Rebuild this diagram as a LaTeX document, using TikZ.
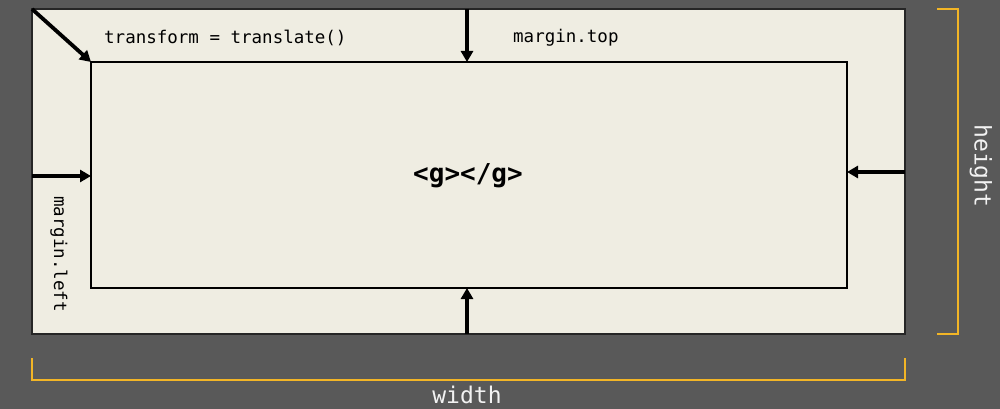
\documentclass[tikz,border=0pt]{standalone}
\usepackage{fontspec}
\setmonofont{DejaVu Sans Mono}
\usetikzlibrary{arrows.meta}
\definecolor{bgdark}{HTML}{595959}
\definecolor{paper}{HTML}{EFEDE2}
\definecolor{brk}{HTML}{F2B526}
\definecolor{lbl}{HTML}{F2F2F2}
\begin{document}
\begin{tikzpicture}[x=1pt,y=-1pt,
  pointer/.style={line width=3.8pt,-{Triangle[length=11pt,width=12pt]}},
  bracket/.style={brk,line width=2.5pt},
  codetext/.style={font=\ttfamily\fontsize{17.5}{20}\selectfont,text=black,inner sep=0pt},
  dimtext/.style={font=\ttfamily\fontsize{23}{26}\selectfont,text=lbl,inner sep=0pt}]
\fill[bgdark] (0,0) rectangle (1000,409);
\useasboundingbox (0,0) rectangle (1000,409);
% corners
\coordinate (otl) at (32,9);
\coordinate (obr) at (905,334);
\coordinate (itl) at (91,62);
\coordinate (ibr) at (847,288);
\fill[paper,draw=black!85,line width=1.8pt] (otl) rectangle (obr);
\draw[black,line width=1.4pt] (itl) rectangle (ibr);
% arrow end points
\coordinate (topo) at (467,9);   \coordinate (topi) at (467,62);
\coordinate (boto) at (467,334); \coordinate (boti) at (467,288);
\coordinate (lefo) at (32,176);  \coordinate (lefi) at (91,176);
\coordinate (rigo) at (905,172); \coordinate (rigi) at (847,172);
\draw[pointer] (otl) -- (itl);
\draw[pointer] (topo) -- (topi);
\draw[pointer] (boto) -- (boti);
\draw[pointer] (lefo) -- (lefi);
\draw[pointer] (rigo) -- (rigi);
% labels
\node[codetext,anchor=west] (tr) at (104,38) {transform = translate()};
\node[codetext,anchor=west] (mt) at (513,38) {margin.top};
\node[codetext,rotate=-90] (ml) at (59,254) {margin.left};
\node[font=\ttfamily\bfseries\fontsize{26}{30}\selectfont,inner sep=0pt] (g) at (468,176) {<g></g>};
% brackets
\coordinate (rb1) at (937,9); \coordinate (rb2) at (958,9);
\coordinate (rb3) at (958,334); \coordinate (rb4) at (937,334);
\draw[bracket] (rb1) -- (rb2) -- (rb3) -- (rb4);
\coordinate (bb1) at (32,358); \coordinate (bb2) at (32,380);
\coordinate (bb3) at (905,380); \coordinate (bb4) at (905,358);
\draw[bracket] (bb1) -- (bb2) -- (bb3) -- (bb4);
\node[dimtext,rotate=-90] (ht) at (981,166) {height};
\node[dimtext] (wd) at (467,395) {width};
\end{tikzpicture}
\end{document}
